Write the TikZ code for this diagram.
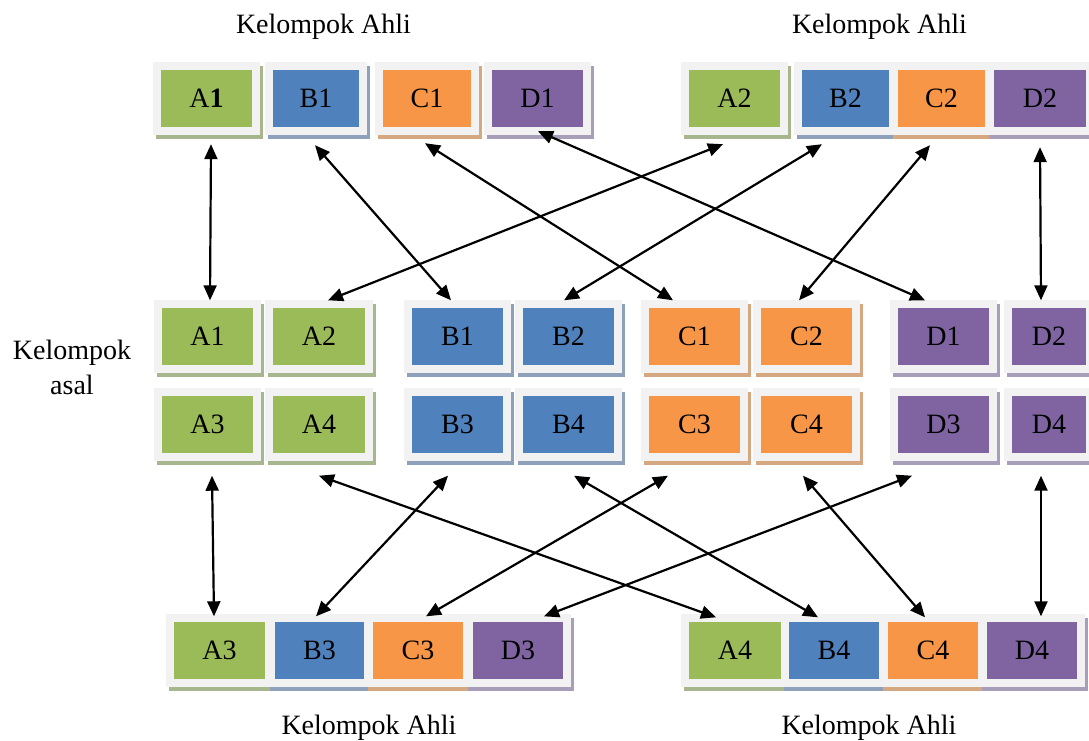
\documentclass[tikz,border=0pt]{standalone}
\usepackage{fontspec}
\setmainfont{Liberation Serif}
\usetikzlibrary{arrows.meta,calc}

\definecolor{framegray}{HTML}{F2F2F2}
\definecolor{tgreen}{HTML}{9BBB59}
\definecolor{tblue}{HTML}{4F81BD}
\definecolor{torange}{HTML}{F79646}
\definecolor{tpurple}{HTML}{8064A2}
\definecolor{sgreen}{RGB}{168,182,142}
\definecolor{sblue}{RGB}{142,160,186}
\definecolor{sorange}{RGB}{214,168,130}
\definecolor{spurple}{RGB}{168,158,186}

\tikzset{
  tile/.style 2 args={
    rectangle, fill=t#1, minimum width=#2, minimum height=57pt, inner sep=0pt,
    font=\fontsize{28}{32}\selectfont,
    preaction={draw=s#1, fill=s#1, line width=16pt,
               transform canvas={shift={(3pt,-4pt)}}},
    preaction={draw=framegray, fill=framegray, line width=16pt}
  },
  ga/.style={tile={green}{#1}},
  gb/.style={tile={blue}{#1}},
  gc/.style={tile={orange}{#1}},
  gd/.style={tile={purple}{#1}},
  caption/.style={font=\fontsize{28}{35}\selectfont, anchor=base, inner sep=0pt},
  link/.style={{Triangle[length=15pt,width=13pt]}-{Triangle[length=15pt,width=13pt]},
               line width=2.2pt}
}

\begin{document}
\begin{tikzpicture}[x=1pt,y=-1pt]
\useasboundingbox (0,0) rectangle (1089,740);
\fill[white] (0,0) rectangle (1089,740);

% captions
\node[caption] (capTL) at (323.5,33) {Kelompok Ahli};
\node[caption] (capTR) at (879.5,33) {Kelompok Ahli};
\node[caption] (capBL) at (369,734) {Kelompok Ahli};
\node[caption] (capBR) at (869,734) {Kelompok Ahli};
\node[caption, align=center, anchor=center] (capAsal) at (72,367) {Kelompok\\asal};

% expert groups, top
\node[ga=91pt] (A1t) at (206.5,98.5) {A\textbf{1}};
\node[gb=86pt] (B1t) at (316,98.5) {B1};
\node[gc=88pt] (C1t) at (427,98.5) {C1};
\node[gd=91pt] (D1t) at (537.5,98.5) {D1};
\node[ga=91pt] (A2t) at (734.5,98.5) {A2};
\node[gb=87pt] (B2t) at (845.5,98.5) {B2};
\node[gc=87pt] (C2t) at (941.5,98.5) {C2};
\node[gd=92pt] (D2t) at (1040,98.5) {D2};

% home groups, first row
\node[ga=91pt] (A1m) at (207.5,336) {A1};
\node[ga=92pt] (A2m) at (319,336) {A2};
\node[gb=91pt] (B1m) at (457.5,336) {B1};
\node[gb=91pt] (B2m) at (568.5,336) {B2};
\node[gc=91pt] (C1m) at (694.5,336) {C1};
\node[gc=91pt] (C2m) at (806.5,336) {C2};
\node[gd=91pt] (D1m) at (943.5,336) {D1};
\node[gd=74pt] (D2m) at (1049,336) {D2};

% home groups, second row
\node[ga=91pt] (A3m) at (207.5,424) {A3};
\node[ga=92pt] (A4m) at (319,424) {A4};
\node[gb=91pt] (B3m) at (457.5,424) {B3};
\node[gb=91pt] (B4m) at (568.5,424) {B4};
\node[gc=91pt] (C3m) at (694.5,424) {C3};
\node[gc=91pt] (C4m) at (806.5,424) {C4};
\node[gd=91pt] (D3m) at (943.5,424) {D3};
\node[gd=74pt] (D4m) at (1049,424) {D4};

% expert groups, bottom
\node[ga=91pt] (A3b) at (219.5,650) {A3};
\node[gb=89pt] (B3b) at (319.5,650) {B3};
\node[gc=90pt] (C3b) at (418,650) {C3};
\node[gd=90pt] (D3b) at (518,650) {D3};
\node[ga=92pt] (A4b) at (735,650) {A4};
\node[gb=90pt] (B4b) at (834,650) {B4};
\node[gc=90pt] (C4b) at (933,650) {C4};
\node[gd=90pt] (D4b) at (1032,650) {D4};

% top experts <-> first home row
\draw[link] ($(A1t.south)+(4.5,17)$)   -- ($(A1m.north)+(2.5,-7)$);
\draw[link] ($(B1t.south)+(-1,18)$)    -- ($(B1m.north)+(-6.5,-7)$);
\draw[link] ($(C1t.south)+(-2,16)$)    -- ($(C1m.north)+(-21.5,-7)$);
\draw[link] ($(D1t.south)+(0.5,4)$)    -- ($(D1m.north)+(-18.5,-7)$);
\draw[link] ($(A2t.south)+(-11.5,17)$) -- ($(A2m.north)+(9,-7)$);
\draw[link] ($(B2t.south)+(-23.5,17)$) -- ($(B2m.north)+(-4.5,-7)$);
\draw[link] ($(C2t.south)+(-11.5,18)$) -- ($(C2m.north)+(-7.5,-7)$);
\draw[link] ($(D2t.south)+(0,20)$)     -- ($(D2m.north)+(-8,-7)$);

% second home row <-> bottom experts
\draw[link] ($(A3m.south)+(4.5,23)$)   -- ($(A3b.north)+(-5.5,-5)$);
\draw[link] ($(A4m.south)+(0,23)$)     -- ($(A4b.north)+(-19,-4)$);
\draw[link] ($(B3m.south)+(-9.5,23)$)  -- ($(B3b.north)+(-3.5,-5)$);
\draw[link] ($(B4m.south)+(5.5,23)$)   -- ($(B4b.north)+(-16,-4)$);
\draw[link] ($(C3m.south)+(-26.5,23)$) -- ($(C3b.north)+(8,-5)$);
\draw[link] ($(C4m.south)+(-3.5,23)$)  -- ($(C4b.north)+(-8,-4)$);
\draw[link] ($(D3m.south)+(-31.5,23)$) -- ($(D3b.north)+(26,-5)$);
\draw[link] ($(D4m.south)+(-8,23)$)    -- ($(D4b.north)+(9,-5)$);
\end{tikzpicture}
\end{document}
